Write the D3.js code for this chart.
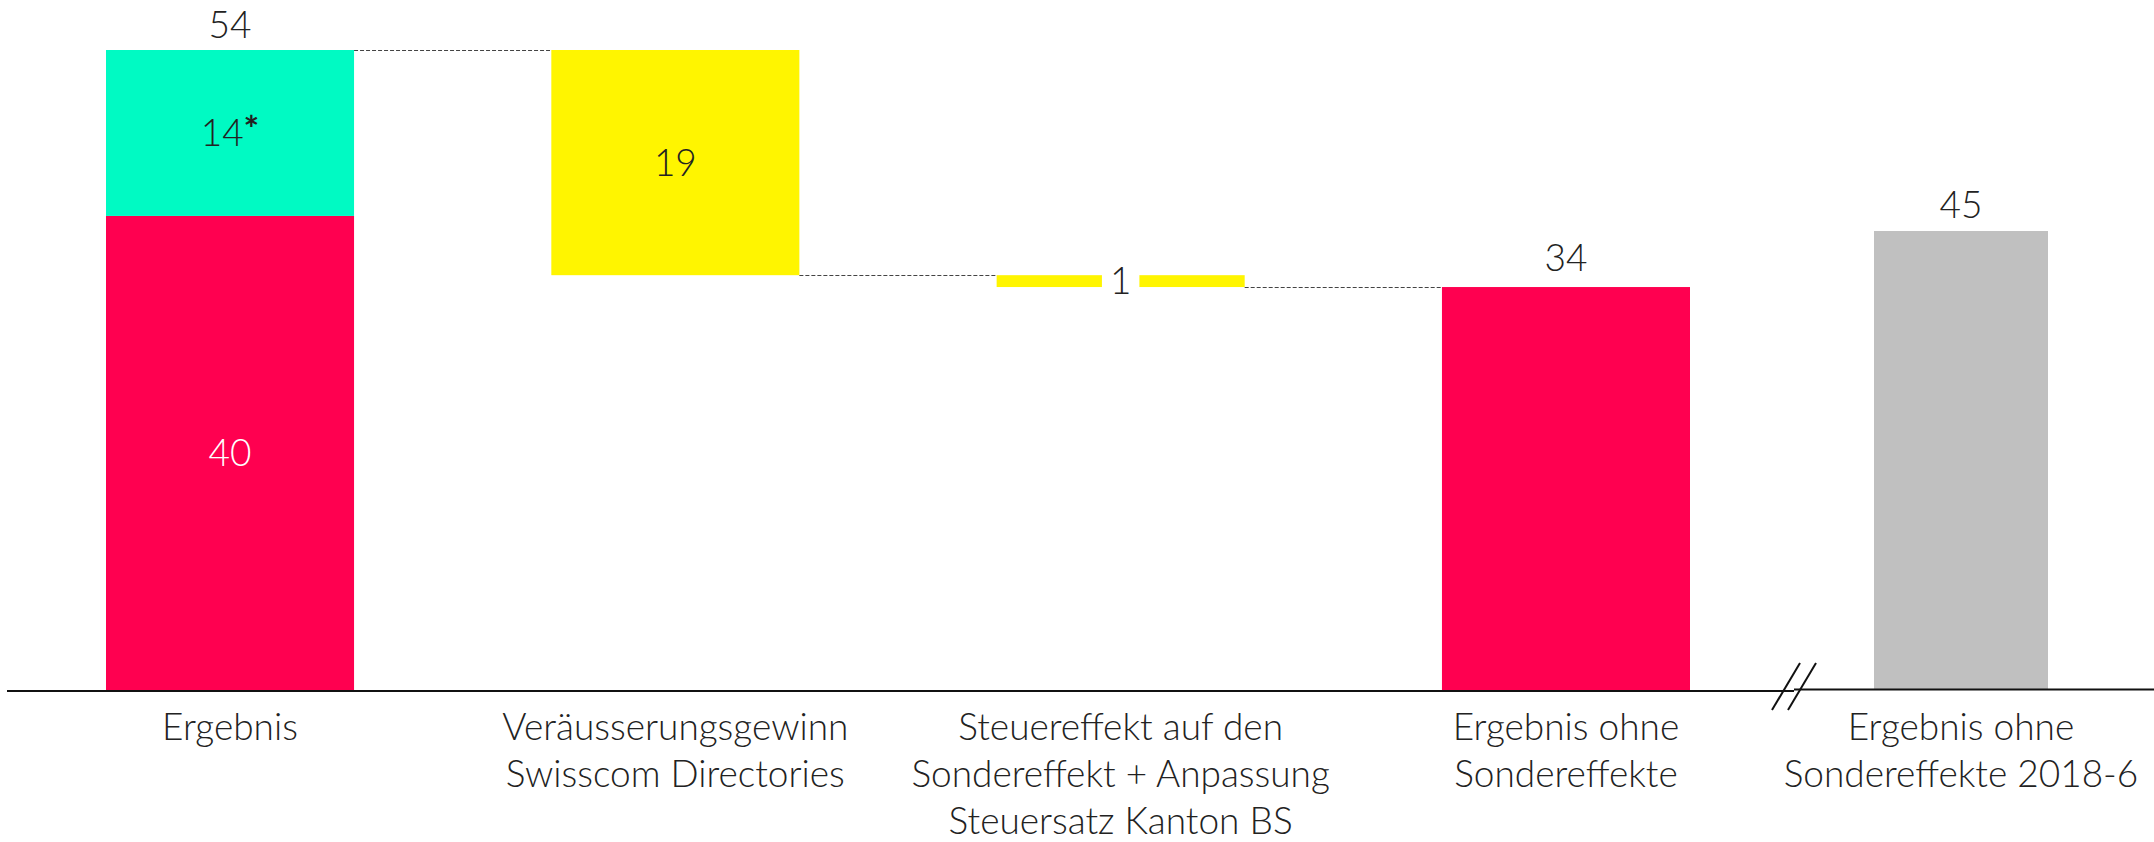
<!DOCTYPE html>
<html>
<head>
<meta charset="utf-8">
<script src="https://cdn.jsdelivr.net/npm/d3@7"></script>
<style>
  body { margin: 0; background: #fff; }
  svg text { font-family: Lato, "Open Sans", sans-serif; font-weight: 300; fill: #222; }
</style>
</head>
<body>
<svg width="2154" height="842"></svg>
<script>
// Categories (multi-line labels)
const categories = [
  ["Ergebnis"],
  ["Veräusserungsgewinn", "Swisscom Directories"],
  ["Steuereffekt auf den", "Sondereffekt + Anpassung", "Steuersatz Kanton BS"],
  ["Ergebnis ohne", "Sondereffekte"]
];
const priorCategory = ["Ergebnis ohne", "Sondereffekte 2018-6"];

// Values
const ergebnisBase = 40;     // red part
const ergebnisSonder = 14;   // teal part (marked *)
const changes = [-19, -1];   // waterfall steps
const result = 34;
const prior = 45;

const width = 2154, height = 842;
const baseline = 690;

const svg = d3.select("svg");

// Scales
const keys = categories.map(c => c.join(" "));
const x = d3.scaleBand()
  .domain(keys)
  .range([106, 1690])
  .paddingInner(0.443)
  .paddingOuter(0);

const x2 = d3.scaleBand()
  .domain([priorCategory.join(" ")])
  .range([1874, 2048]);

const total = ergebnisBase + ergebnisSonder;
const y = d3.scaleLinear().domain([0, total]).range([baseline, 50]);
// prior year shown behind an axis break, on its own scale
const y2 = d3.scaleLinear().domain([0, prior]).range([baseline, 231]);

const colors = { red: "#FF0050", teal: "#00FAC3", yellow: "#FFF500", gray: "#C0C0C0" };

// Build waterfall steps
let running = total;
const steps = changes.map((v, i) => {
  const start = running;
  running += v;
  return { key: keys[i + 1], start, end: running, value: Math.abs(v) };
});

// Connector lines
const connectors = [
  { y: total, x1: x(keys[0]) + x.bandwidth(), x2: x(keys[1]) },
  { y: steps[0].end, x1: x(keys[1]) + x.bandwidth(), x2: x(keys[2]) },
  { y: steps[1].end, x1: x(keys[2]) + x.bandwidth(), x2: x(keys[3]) }
];
svg.selectAll(".conn")
  .data(connectors)
  .join("line")
  .attr("x1", d => d.x1)
  .attr("x2", d => d.x2)
  .attr("y1", d => Math.round(y(d.y)) + 0.5)
  .attr("y2", d => Math.round(y(d.y)) + 0.5)
  .attr("stroke", "#444")
  .attr("stroke-width", 1.2)
  .attr("stroke-dasharray", "4,2");

// Ergebnis stacked bar
svg.append("rect")
  .attr("x", x(keys[0]))
  .attr("y", y(ergebnisBase))
  .attr("width", x.bandwidth())
  .attr("height", baseline - y(ergebnisBase))
  .attr("fill", colors.red);
svg.append("rect")
  .attr("x", x(keys[0]))
  .attr("y", y(total))
  .attr("width", x.bandwidth())
  .attr("height", y(ergebnisBase) - y(total))
  .attr("fill", colors.teal);

// Waterfall steps
svg.selectAll(".step")
  .data(steps)
  .join("rect")
  .attr("x", d => x(d.key))
  .attr("y", d => y(d.start))
  .attr("width", x.bandwidth())
  .attr("height", d => y(d.end) - y(d.start))
  .attr("fill", colors.yellow);

// Result bar
svg.append("rect")
  .attr("x", x(keys[3]))
  .attr("y", y(result))
  .attr("width", x.bandwidth())
  .attr("height", baseline - y(result))
  .attr("fill", colors.red);

// Prior year bar
svg.append("rect")
  .attr("x", x2(priorCategory.join(" ")))
  .attr("y", y2(prior))
  .attr("width", x2.bandwidth())
  .attr("height", baseline - y2(prior))
  .attr("fill", colors.gray);

// Value labels
const fs = 37;
const cx = k => x(k) + x.bandwidth() / 2;

svg.append("text")
  .attr("x", cx(keys[0])).attr("y", y(total) - 12)
  .attr("text-anchor", "middle").style("font-size", fs + "px")
  .text(total);

const t14 = svg.append("text")
  .attr("x", cx(keys[0])).attr("y", (y(total) + y(ergebnisBase)) / 2 + 13)
  .attr("text-anchor", "middle").style("font-size", fs + "px");
t14.append("tspan").text(ergebnisSonder);
t14.append("tspan").text("*").style("font-weight", 700).attr("dy", -4);

svg.append("text")
  .attr("x", cx(keys[0])).attr("y", (y(ergebnisBase) + baseline) / 2 + 13)
  .attr("text-anchor", "middle").style("font-size", fs + "px")
  .style("fill", "#fff")
  .text(ergebnisBase);

// step labels: big bar inside; thin bar with white gap
steps.forEach((d, i) => {
  const t = svg.append("text")
    .attr("x", cx(d.key))
    .attr("y", (y(d.start) + y(d.end)) / 2 + 13)
    .attr("text-anchor", "middle").style("font-size", fs + "px")
    .text(d.value);
  if (y(d.end) - y(d.start) < 30) {
    const bb = t.node().getBBox();
    svg.insert("rect", () => t.node())
      .attr("x", bb.x - 8).attr("y", y(d.start) - 1)
      .attr("width", bb.width + 16).attr("height", y(d.end) - y(d.start) + 2)
      .attr("fill", "#fff");
  }
});

svg.append("text")
  .attr("x", cx(keys[3])).attr("y", y(result) - 16)
  .attr("text-anchor", "middle").style("font-size", fs + "px")
  .text(result);

svg.append("text")
  .attr("x", x2(priorCategory.join(" ")) + x2.bandwidth() / 2).attr("y", y2(prior) - 13)
  .attr("text-anchor", "middle").style("font-size", fs + "px")
  .text(prior);

// Baseline with break
const breakX = 1794;
svg.append("line")
  .attr("x1", 7).attr("x2", breakX)
  .attr("y1", baseline + 1).attr("y2", baseline + 1)
  .attr("stroke", "#111").attr("stroke-width", 2);
svg.append("line")
  .attr("x1", breakX).attr("x2", width)
  .attr("y1", baseline - 0.5).attr("y2", baseline - 0.5)
  .attr("stroke", "#111").attr("stroke-width", 2);
[-8, 8].forEach(off => {
  svg.append("line")
    .attr("x1", breakX + off - 14).attr("y1", baseline + 20)
    .attr("x2", breakX + off + 14).attr("y2", baseline - 27)
    .attr("stroke", "#111").attr("stroke-width", 2);
});

// Category labels
const allLabels = categories.map((c, i) => ({ lines: c, cx: cx(keys[i]) }))
  .concat([{ lines: priorCategory, cx: x2(priorCategory.join(" ")) + x2.bandwidth() / 2 }]);

allLabels.forEach(d => {
  const t = svg.append("text")
    .attr("text-anchor", "middle")
    .style("font-size", fs + "px");
  d.lines.forEach((l, j) => {
    t.append("tspan")
      .attr("x", d.cx)
      .attr("y", baseline + 50 + j * 47)
      .text(l);
  });
});
</script>
</body>
</html>
